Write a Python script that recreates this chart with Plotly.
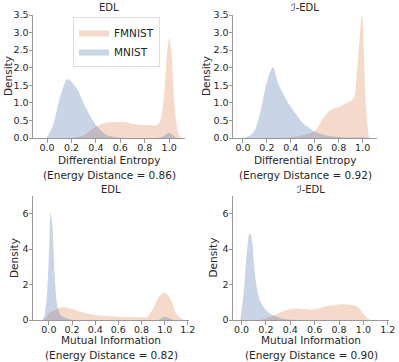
import plotly.graph_objects as go

# densities (x, density)
de_edl_x_mnist = [-0.05, -0.02, 0.0, 0.05, 0.1, 0.15, 0.17, 0.2, 0.25, 0.3, 0.35, 0.4, 0.45, 0.5, 0.55, 0.6, 0.7, 0.9, 0.95, 1.0, 1.03, 1.06]
de_edl_y_mnist = [0.0, 0.0, 0.03, 0.37, 1.08, 1.6, 1.68, 1.6, 1.37, 0.99, 0.65, 0.37, 0.18, 0.07, 0.03, 0.01, 0.0, 0.0, 0.04, 0.15, 0.08, 0.0]
de_edl_x_fmnist = [0.2, 0.25, 0.3, 0.35, 0.4, 0.45, 0.5, 0.6, 0.65, 0.7, 0.8, 0.9, 0.93, 0.96, 0.98, 1.0, 1.02, 1.04, 1.06, 1.08, 1.1, 1.12]
de_edl_y_fmnist = [0.0, 0.03, 0.08, 0.2, 0.32, 0.4, 0.44, 0.46, 0.45, 0.4, 0.37, 0.37, 0.5, 1.27, 2.3, 2.84, 2.4, 1.18, 0.42, 0.09, 0.01, 0.0]

de_iedl_x_mnist = [0.0, 0.05, 0.1, 0.15, 0.2, 0.25, 0.3, 0.35, 0.4, 0.45, 0.5, 0.55, 0.6, 0.7, 0.8, 0.9, 1.0, 1.05]
de_iedl_y_mnist = [0.0, 0.05, 0.23, 0.8, 1.6, 2.02, 1.5, 1.17, 0.88, 0.65, 0.42, 0.3, 0.18, 0.07, 0.03, 0.01, 0.02, 0.0]
de_iedl_x_fmnist = [0.25, 0.4, 0.5, 0.6, 0.65, 0.7, 0.75, 0.8, 0.85, 0.9, 0.93, 0.95, 0.98, 0.99, 1.0, 1.01, 1.02, 1.03, 1.05, 1.06]
de_iedl_y_fmnist = [0.0, 0.02, 0.08, 0.2, 0.45, 0.7, 0.83, 0.88, 0.97, 1.06, 1.17, 1.75, 3.08, 3.5, 3.36, 2.5, 1.5, 0.8, 0.1, 0.0]

mi_edl_x_mnist = [-0.06, -0.04, -0.02, 0.0, 0.015, 0.03, 0.05, 0.07, 0.1, 0.15, 0.2, 0.3, 0.9, 0.95, 1.0, 1.05, 1.08]
mi_edl_y_mnist = [0.0, 0.2, 1.1, 3.55, 6.1, 5.4, 2.6, 0.93, 0.28, 0.1, 0.02, 0.0, 0.0, 0.02, 0.18, 0.05, 0.0]
mi_edl_x_fmnist = [-0.04, 0.0, 0.05, 0.1, 0.15, 0.2, 0.3, 0.4, 0.5, 0.6, 0.7, 0.8, 0.85, 0.9, 0.95, 1.0, 1.05, 1.1, 1.15, 1.18]
mi_edl_y_fmnist = [0.0, 0.37, 0.56, 0.71, 0.71, 0.62, 0.41, 0.28, 0.22, 0.19, 0.17, 0.15, 0.19, 0.65, 1.3, 1.55, 1.2, 0.37, 0.05, 0.0]

mi_iedl_x_mnist = [-0.01, 0.02, 0.04, 0.06, 0.07, 0.09, 0.1, 0.12, 0.15, 0.2, 0.25, 0.3, 0.35, 0.4, 0.5]
mi_iedl_y_mnist = [0.0, 1.7, 3.55, 4.77, 4.9, 4.3, 3.36, 2.05, 1.12, 0.56, 0.28, 0.15, 0.05, 0.01, 0.0]
mi_iedl_x_fmnist = [0.15, 0.2, 0.3, 0.35, 0.4, 0.45, 0.5, 0.6, 0.65, 0.7, 0.8, 0.85, 0.9, 0.95, 1.0, 1.03, 1.06]
mi_iedl_y_fmnist = [0.0, 0.09, 0.37, 0.52, 0.6, 0.65, 0.62, 0.6, 0.69, 0.79, 0.88, 0.88, 0.84, 0.75, 0.37, 0.1, 0.0]

titles = ["EDL", "ℐ-EDL", "EDL", "ℐ-EDL"]
xlabels = ["Differential Entropy", "Differential Entropy", "Mutual Information", "Mutual Information"]
energy = ["0.86", "0.92", "0.82", "0.90"]

panels = [
    (de_edl_x_fmnist, de_edl_y_fmnist, de_edl_x_mnist, de_edl_y_mnist),
    (de_iedl_x_fmnist, de_iedl_y_fmnist, de_iedl_x_mnist, de_iedl_y_mnist),
    (mi_edl_x_fmnist, mi_edl_y_fmnist, mi_edl_x_mnist, mi_edl_y_mnist),
    (mi_iedl_x_fmnist, mi_iedl_y_fmnist, mi_iedl_x_mnist, mi_iedl_y_mnist),
]

W, H = 399, 362
ORANGE = "rgba(221,132,82,0.3)"
BLUE = "rgba(76,114,176,0.3)"
FONT = "DejaVu Sans"
TXT = "#262626"

# pixel boxes of each axes: left, right, top, bottom
boxes = [(33, 185, 15, 138), (233, 377, 15, 138), (33, 189, 196, 320), (233, 389, 196, 320)]
xranges = [[-0.115, 1.13], [-0.083, 1.12], [-0.137, 1.21], [-0.07, 1.21]]
# y pixel of the two x-label lines under each panel
label_rows = [(160, 175), (160, 175), (340, 355), (340, 355)]


def label(text, xpx, ypx, size, angle=0):
    fig.add_annotation(text=text, x=xpx / W, y=1 - ypx / H, xref="paper", yref="paper",
                       xanchor="center", yanchor="middle", textangle=angle, showarrow=False,
                       font=dict(family=FONT, size=size, color=TXT))


fig = go.Figure()
for i, (xf, yf, xm, ym) in enumerate(panels):
    ax = "" if i == 0 else str(i + 1)
    for xs, ys, col, name in [(xf, yf, ORANGE, "FMNIST"), (xm, ym, BLUE, "MNIST")]:
        fig.add_trace(go.Scatter(
            x=xs, y=ys, mode="lines", fill="tozeroy", fillcolor=col,
            line=dict(color="rgba(0,0,0,0)", width=0, shape="spline", smoothing=0.7),
            name=name, showlegend=(i == 0), xaxis="x" + ax, yaxis="y" + ax,
            hoverinfo="skip",
        ))
    l, r, t, b = boxes[i]
    top = i < 2
    fig.layout["xaxis" + ax] = dict(
        domain=[l / W, r / W], anchor="y" + ax, range=xranges[i],
        tickvals=[0, 0.2, 0.4, 0.6, 0.8, 1.0] if top else [0, 0.2, 0.4, 0.6, 0.8, 1.0, 1.2],
        tickformat=".1f", showgrid=False, zeroline=False, showline=True,
        linecolor="#999", linewidth=1, ticks="outside", ticklen=3.5, tickcolor="#999",
        tickfont=dict(family=FONT, size=9.5, color=TXT), automargin=False,
        ticklabelstandoff=-3,
    )
    fig.layout["yaxis" + ax] = dict(
        domain=[1 - b / H, 1 - t / H], anchor="x" + ax,
        range=[0, 3.5] if top else [0, 7],
        tickvals=[0, 0.5, 1, 1.5, 2, 2.5, 3, 3.5] if top else [0, 2, 4, 6],
        tickformat=".1f" if top else "d",
        showgrid=False, zeroline=False, showline=True,
        linecolor="#999", linewidth=1, ticks="outside", ticklen=3.5, tickcolor="#999",
        tickfont=dict(family=FONT, size=9.5, color=TXT), automargin=False,
        ticklabelstandoff=-2,
    )
    cx = (l + r) / 2
    label(titles[i], cx, t - 7, 10)
    label(xlabels[i], cx, label_rows[i][0], 10.5)
    label("(Energy Distance = " + energy[i] + ")", cx, label_rows[i][1], 10.5)
    label("Density", [7.5, 205.5, 14, 212.5][i], (t + b) / 2, 10.5, -90)

fig.update_layout(
    width=W, height=H, margin=dict(l=0, r=0, t=0, b=0),
    plot_bgcolor="white", paper_bgcolor="white",
    legend=dict(x=73 / W, y=1 - 17 / H, xanchor="left", yanchor="top",
                bgcolor="rgba(255,255,255,0.8)", bordercolor="#ddd", borderwidth=1,
                font=dict(family=FONT, size=10.5, color=TXT), itemwidth=30,
                tracegroupgap=0),
)

# the page body has a default 8px margin; drop it so the figure fills the window
fig.write_html("out.html", config={"displayModeBar": False},
               post_script="document.body.style.margin='0px';")
